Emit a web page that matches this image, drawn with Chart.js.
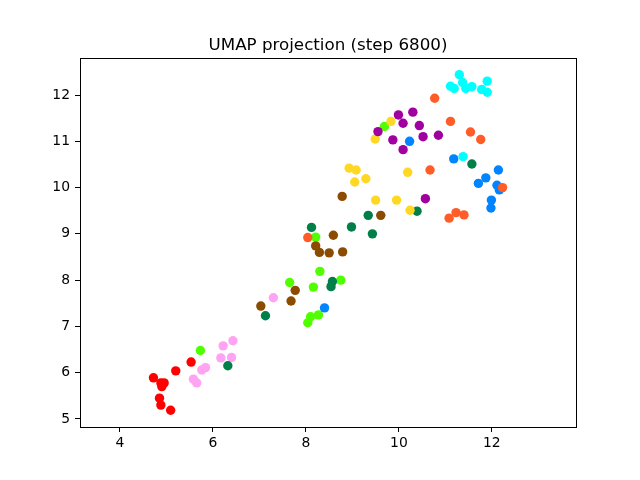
<!DOCTYPE html>
<html>
<head>
<meta charset="utf-8">
<script src="https://cdn.jsdelivr.net/npm/chart.js@4"></script>
<style>
  html, body { margin: 0; padding: 0; background: #fff; }
  #wrap { width: 640px; height: 480px; }
</style>
</head>
<body>
<div id="wrap"><canvas id="c" width="640" height="480"></canvas></div>
<script>
// ── data (x, y per class) ───────────────────────────────────────────
const TITLE = "UMAP projection (step 6800)";
const X_TICKS = [4, 6, 8, 10, 12];
const Y_TICKS = [5, 6, 7, 8, 9, 10, 11, 12];

const RED_X = [4.72, 4.88, 4.95, 4.90, 4.85, 4.88, 5.09, 5.20, 5.53];
const RED_Y = [5.89, 5.78, 5.78, 5.70, 5.45, 5.30, 5.19, 6.04, 6.23];

const PINK_X = [5.58, 5.65, 5.76, 5.84, 6.17, 6.40, 6.22, 6.43, 7.30];
const PINK_Y = [5.86, 5.78, 6.06, 6.11, 6.32, 6.33, 6.58, 6.69, 7.62];

const LIME_X = [5.73, 8.21, 8.30, 7.65, 8.75, 8.16, 8.27, 8.10, 8.04, 9.69];
const LIME_Y = [6.48, 8.93, 8.19, 7.95, 8.00, 7.85, 7.25, 7.21, 7.08, 11.32];

const DGREEN_X = [6.32, 7.13, 8.12, 8.98, 8.57, 8.54, 9.34, 9.43, 10.39, 11.57];
const DGREEN_Y = [6.15, 7.23, 9.14, 9.15, 7.97, 7.86, 9.40, 9.00, 9.49, 10.51];

const BROWN_X = [8.21, 8.29, 8.50, 8.79, 8.59, 8.78, 9.61, 7.77, 7.68, 7.03];
const BROWN_Y = [8.74, 8.60, 8.59, 8.61, 8.97, 9.81, 9.40, 7.78, 7.55, 7.44];

const YELLOW_X = [8.93, 9.08, 9.05, 9.29, 10.19, 9.50, 9.95, 10.24, 9.83, 9.49];
const YELLOW_Y = [10.42, 10.38, 10.12, 10.19, 10.33, 9.73, 9.73, 9.51, 11.43, 11.05];

const PURPLE_X = [9.99, 10.30, 10.09, 10.44, 9.55, 9.87, 10.52, 10.85, 10.09, 10.57];
const PURPLE_Y = [11.57, 11.63, 11.39, 11.34, 11.21, 11.03, 11.10, 11.13, 10.82, 9.76];

const BLUE_X = [10.23, 11.18, 12.14, 11.87, 11.71, 12.11, 12.16, 11.99, 11.98, 8.40];
const BLUE_Y = [11.00, 10.62, 10.38, 10.21, 10.09, 10.05, 9.95, 9.73, 9.56, 7.40];

const CYAN_X = [11.30, 11.37, 11.90, 11.11, 11.19, 11.44, 11.57, 11.78, 11.90, 11.38];
const CYAN_Y = [12.44, 12.27, 12.30, 12.19, 12.14, 12.14, 12.18, 12.12, 12.06, 10.67];

const ORANGE_X = [8.04, 10.77, 11.11, 11.54, 11.76, 10.67, 12.23, 11.23, 11.40, 11.08];
const ORANGE_Y = [8.92, 11.93, 11.43, 11.20, 11.04, 10.38, 10.00, 9.46, 9.41, 9.34];

// ── series, in the order they are painted (later = on top) ───────────
const SERIES = [
  { xs: RED_X, ys: RED_Y, color: "#ff0000" },
  { xs: PINK_X, ys: PINK_Y, color: "#ffa3f3" },
  { xs: LIME_X, ys: LIME_Y, color: "#50ff00" },
  { xs: DGREEN_X, ys: DGREEN_Y, color: "#008048" },
  { xs: BROWN_X, ys: BROWN_Y, color: "#8c4c00" },
  { xs: YELLOW_X, ys: YELLOW_Y, color: "#ffd824" },
  { xs: PURPLE_X, ys: PURPLE_Y, color: "#a000a0" },
  { xs: BLUE_X, ys: BLUE_Y, color: "#0084ff" },
  { xs: CYAN_X, ys: CYAN_Y, color: "#00ffff" },
  { xs: ORANGE_X, ys: ORANGE_Y, color: "#ff5c28" },
];

const FONT = "'DejaVu Sans', sans-serif";

// chart.js paints dataset 0 last, so hand them over reversed
const datasets = SERIES.slice().reverse().map((s) => ({
  data: s.xs.map((x, i) => ({ x, y: s.ys[i] })),
  backgroundColor: s.color,
  borderWidth: 0,
  pointRadius: 4.7,
  pointHoverRadius: 4.7,
}));

// frame on all four sides + title above the axes
const framePlugin = {
  id: "frame",
  afterDraw(chart) {
    const { ctx, chartArea: a } = chart;
    ctx.save();
    ctx.strokeStyle = "#000";
    ctx.lineWidth = 1;
    ctx.strokeRect(
      Math.round(a.left) + 0.5,
      Math.round(a.top) + 0.5,
      Math.round(a.right - a.left),
      Math.round(a.bottom - a.top),
    );
    ctx.fillStyle = "#000";
    ctx.font = `16.7px ${FONT}`;
    ctx.textAlign = "center";
    ctx.textBaseline = "alphabetic";
    ctx.fillText(TITLE, (a.left + a.right) / 2, 50);
    ctx.restore();
  },
};

const tickOpts = (vals) => ({
  afterBuildTicks: (scale) => {
    scale.ticks = vals.map((v) => ({ value: v }));
  },
});

new Chart(document.getElementById("c"), {
  type: "scatter",
  data: { datasets },
  options: {
    responsive: false,
    animation: false,
    devicePixelRatio: 1,
    layout: { padding: { top: 58, right: 64, left: 0, bottom: 0 } },
    plugins: { legend: { display: false }, tooltip: { enabled: false } },
    scales: {
      x: {
        type: "linear",
        min: 3.14,
        max: 13.81,
        ...tickOpts(X_TICKS),
        afterFit: (s) => { s.height = 53; },
        grid: { drawOnChartArea: false, drawTicks: true, tickLength: 5, color: "#000" },
        border: { display: false },
        ticks: { color: "#000", font: { family: FONT, size: 13.9 }, padding: 3, maxRotation: 0 },
      },
      y: {
        type: "linear",
        min: 4.827,
        max: 12.80,
        ...tickOpts(Y_TICKS),
        afterFit: (s) => { s.width = 80; },
        grid: { drawOnChartArea: false, drawTicks: true, tickLength: 5, color: "#000" },
        border: { display: false },
        ticks: { color: "#000", font: { family: FONT, size: 13.9 }, padding: 5 },
      },
    },
  },
  plugins: [framePlugin],
});
</script>
</body>
</html>
